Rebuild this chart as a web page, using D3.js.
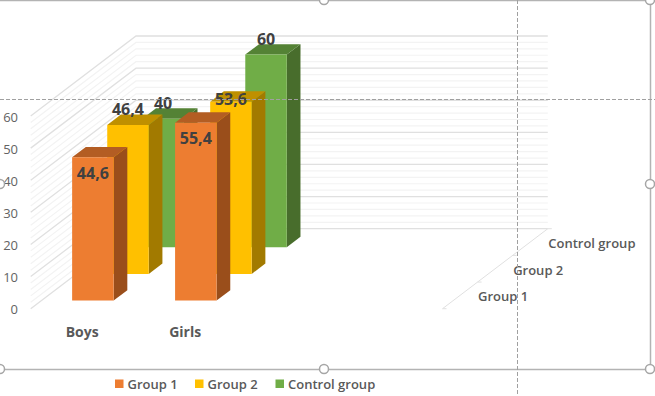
<!DOCTYPE html>
<html lang="en">
<head>
  <meta charset="UTF-8">
  <title>3D Column Chart</title>
  <script src="https://d3js.org/d3.v7.min.js"></script>
  <style>
    html, body { margin: 0; padding: 0; background: #fff; overflow: hidden; }
    svg { display: block; font-family: "Open Sans", sans-serif; }
    .tick-label { font-size: 13px; fill: #636363; }
    .cat-label { font-size: 14px; font-weight: 700; fill: #595959; }
    .depth-label { font-size: 13px; font-weight: 600; fill: #595959; }
    .legend-label { font-size: 13px; font-weight: 600; fill: #595959; }
    .value-label { font-size: 16px; font-weight: 700; fill: #404040; }
  </style>
</head>
<body>
  <div id="chart"></div>
  <script>
const categories = ["Boys", "Girls", "", ""];   // chart has two empty category slots
const seriesNames = ["Group 1", "Group 2", "Control group"];
const group1 = [44.6, 55.4];
const group2 = [46.4, 53.6];
const controlGroup = [40, 60];
const yTicks = [0, 10, 20, 30, 40, 50, 60];
const minorTicks = d3.range(0, 60.1, 2);

const seriesValues = [group1, group2, controlGroup];
const front = ["#ED7D31", "#FFC000", "#70AD47"];
const side = ["#9A4E1B", "#A27A00", "#486D2C"];
const top_ = ["#B35D23", "#BF9000", "#548235"];

const width = 655, height = 396;

const svg = d3.select("#chart").append("svg")
  .attr("width", width)
  .attr("height", height);

// oblique projection: x along categories, z into the chart, y up
const xScale = d3.scaleBand().domain(d3.range(categories.length)).range([30.7, 442.5]);
const zX = d3.scaleLinear().domain([0, seriesNames.length]).range([0, 105.3]);
const zY = d3.scaleLinear().domain([0, seriesNames.length]).range([0, -80]);
const yScale = d3.scaleLinear().domain([0, 60]).range([308.7, 116]);
const project = (x, z, v) => [x + zX(z), yScale(v) + zY(z)];
const poly = pts => "M" + pts.map(p => p.join(",")).join("L") + "Z";
const commaText = d3.format(".1f");
const valueText = v => Number.isInteger(v) ? String(v) : commaText(v).replace(".", ",");

const barW = 41.5;            // gap width 75%
const barD = 0.39;            // bar depth as a share of the series slot
const zPad = (1 - barD) / 2;

// walls
const grid = svg.append("g").attr("fill", "none");
const xL = xScale.range()[0], xR = xScale.range()[1];
grid.selectAll("path.wall")
  .data(minorTicks)
  .join("path")
  .attr("class", "wall")
  .attr("stroke", d => d % 10 === 0 ? "#e0e0e0" : "#f3f3f3")
  .attr("stroke-width", d => d % 10 === 0 ? 1.3 : 1.2)
  .attr("d", d => d3.line()([project(xL, 0, d), project(xL, 3, d), project(xR, 3, d)]));

// floor side edge with ticks
const edge = svg.append("g").attr("stroke", "#e0e0e0").attr("fill", "none");
edge.append("path").attr("d", d3.line()([project(xR, 0, 0), project(xR, 3, 0)]));
edge.selectAll("path.dtick")
  .data(d3.range(0, 4))
  .join("path")
  .attr("class", "dtick")
  .attr("d", d => d3.line()([project(xR, d, 0), [project(xR, d, 0)[0] + 4, project(xR, d, 0)[1]]]));

// bars, back to front
const bars = [];
seriesNames.forEach((name, s) => {
  seriesValues[s].forEach((v, c) => bars.push({ s, c, v }));
});
bars.sort((a, b) => b.s - a.s || a.c - b.c);

const barG = svg.append("g").selectAll("g").data(bars).join("g");
barG.each(function (d) {
  const g = d3.select(this);
  const x0 = xScale(d.c) + (xScale.bandwidth() - barW) / 2;
  const x1 = x0 + barW;
  const z0 = d.s + zPad, z1 = d.s + zPad + barD;
  g.append("path").attr("fill", side[d.s])
    .attr("d", poly([project(x1, z0, 0), project(x1, z1, 0), project(x1, z1, d.v), project(x1, z0, d.v)]));
  g.append("path").attr("fill", top_[d.s])
    .attr("d", poly([project(x0, z0, d.v), project(x1, z0, d.v), project(x1, z1, d.v), project(x0, z1, d.v)]));
  g.append("path").attr("fill", front[d.s])
    .attr("d", poly([project(x0, z0, 0), project(x1, z0, 0), project(x1, z0, d.v), project(x0, z0, d.v)]));
});

// value labels sit inside the orange bars, above the others, one was dragged by hand
const labelDy = d => d.s === 0 ? 21.5 : (d.s === 1 && d.c === 1 ? 3 : -9.5);
svg.append("g").selectAll("text").data(bars).join("text")
  .attr("class", "value-label")
  .attr("text-anchor", "middle")
  .attr("x", d => xScale(d.c) + xScale.bandwidth() / 2 + zX(d.s + zPad))
  .attr("y", d => yScale(d.v) + zY(d.s + zPad) + labelDy(d))
  .text(d => valueText(d.v));

// value axis
svg.append("g").selectAll("text").data(yTicks).join("text")
  .attr("class", "tick-label")
  .attr("text-anchor", "end")
  .attr("x", 18)
  .attr("y", d => yScale(d) + 5.5)
  .text(d => d);

// category labels
svg.append("g").selectAll("text").data(categories).join("text")
  .attr("class", "cat-label")
  .attr("text-anchor", "middle")
  .attr("x", (d, i) => xScale(i) + xScale.bandwidth() / 2)
  .attr("y", 336.5)
  .text(d => d);

// depth labels
svg.append("g").selectAll("text").data(seriesNames).join("text")
  .attr("class", "depth-label")
  .attr("x", (d, i) => project(xR, i + 0.5, 0)[0] + 18)
  .attr("y", (d, i) => project(xR, i + 0.5, 0)[1] + 6)
  .text(d => d);

// legend
const legendX = d3.scaleOrdinal().domain(seriesNames).range([115, 195, 275.5]);
const legend = svg.append("g").selectAll("g").data(seriesNames).join("g")
  .attr("transform", d => `translate(${legendX(d)},379.5)`);
legend.append("rect").attr("width", 8.5).attr("height", 8.5).attr("fill", (d, i) => front[i]);
legend.append("text").attr("class", "legend-label").attr("x", 12.5).attr("y", 9.5).text(d => d);

// selection frame from the editor
const frame = svg.append("g").attr("fill", "none");
frame.append("path")
  .attr("stroke", "#b3b3b3").attr("stroke-width", 1.5)
  .attr("d", "M-2,0.5H650.5V369.5H-2");
frame.append("path")
  .attr("stroke", "#a0a0a0").attr("stroke-dasharray", "4,2")
  .attr("d", "M0,99.5H655M517.5,0V396");
const handles = [[324, 0], [650, 0], [650, 184], [650, 369], [324, 369], [0, 369], [0, 184]];
frame.selectAll("circle").data(handles).join("circle")
  .attr("cx", d => d[0]).attr("cy", d => d[1]).attr("r", 4.5)
  .attr("fill", "#fff").attr("stroke", "#a6a6a6").attr("stroke-width", 1.5);
  </script>
</body>
</html>
